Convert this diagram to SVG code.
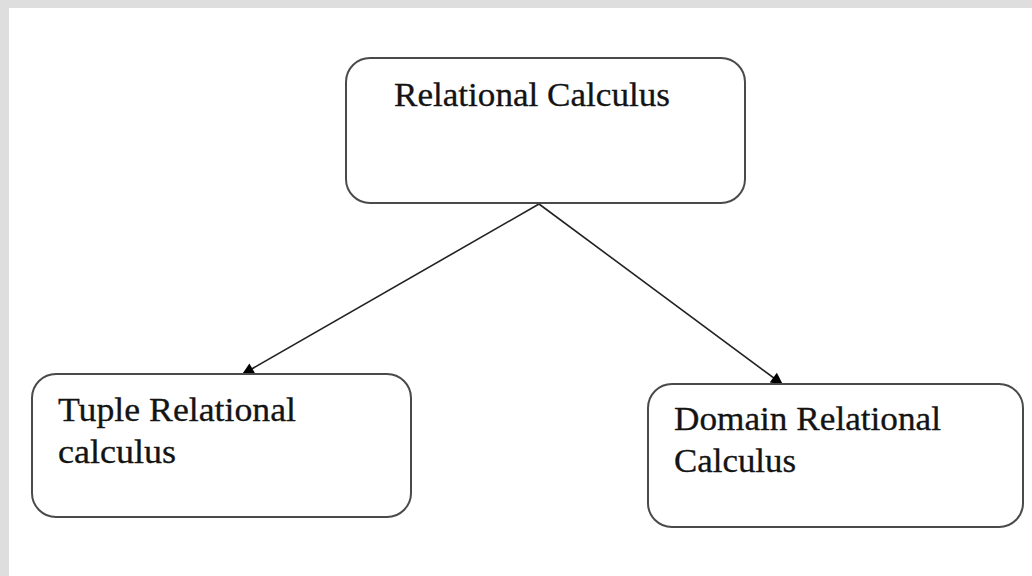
<svg xmlns="http://www.w3.org/2000/svg" width="1032" height="576" viewBox="0 0 1032 576">
<defs>
<style>
.box{fill:#fff;stroke:#4a4a4a;stroke-width:2}
.lbl{font-family:"Liberation Serif","DejaVu Serif",serif;font-size:33px;fill:#141414;stroke:#141414;stroke-width:0.3}
.edge{stroke:#222;stroke-width:1.6;fill:none}
</style>
<marker id="arr" viewBox="0 0 10 10" refX="9" refY="5" markerWidth="13" markerHeight="12" markerUnits="userSpaceOnUse" orient="auto">
<path d="M0,0 L10,5 L0,10 z" fill="#000"/>
</marker>
</defs>
<rect x="0" y="0" width="1032" height="576" fill="#fff"/>
<rect x="0" y="0" width="1032" height="8" fill="#dedede"/>
<rect x="0" y="0" width="9" height="576" fill="#dedede"/>
<g id="connectors">
<line class="edge" x1="539" y1="204" x2="243" y2="374" marker-end="url(#arr)"/>
<line class="edge" x1="539" y1="204" x2="782" y2="384" marker-end="url(#arr)"/>
</g>
<g id="relational-calculus">
<rect class="box" x="346" y="58" width="399" height="145" rx="24"/>
<text class="lbl" x="394" y="106" textLength="276" lengthAdjust="spacingAndGlyphs">Relational Calculus</text>
</g>
<g id="tuple-relational">
<rect class="box" x="32" y="374" width="379" height="143" rx="24"/>
<text class="lbl" x="58" y="421" textLength="238" lengthAdjust="spacingAndGlyphs">Tuple Relational</text>
<text class="lbl" x="58" y="463" textLength="118" lengthAdjust="spacingAndGlyphs">calculus</text>
</g>
<g id="domain-relational">
<rect class="box" x="648" y="384" width="375" height="143" rx="24"/>
<text class="lbl" x="674" y="430" textLength="267" lengthAdjust="spacingAndGlyphs">Domain Relational</text>
<text class="lbl" x="674" y="472" textLength="122" lengthAdjust="spacingAndGlyphs">Calculus</text>
</g>
</svg>
